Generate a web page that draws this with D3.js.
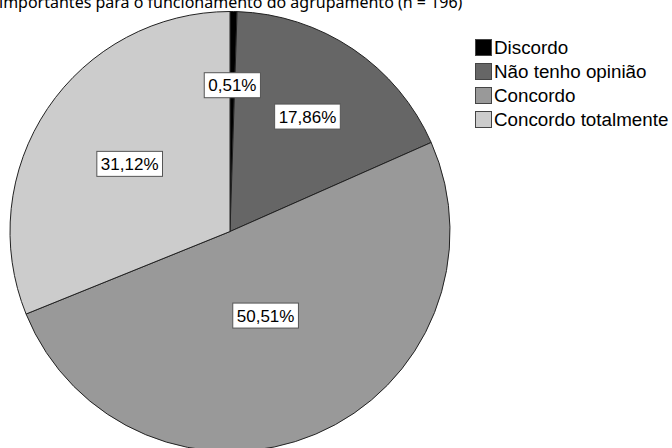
<!DOCTYPE html>
<html>
<head>
<meta charset="utf-8">
<script src="https://cdn.jsdelivr.net/npm/d3@7"></script>
<style>
  html, body { margin: 0; padding: 0; background: #fff; }
  svg { display: block; }
</style>
</head>
<body>
<svg id="chart" width="672" height="448"></svg>
<script>
// Respostas (n = 196)
const categories = ["Discordo", "Não tenho opinião", "Concordo", "Concordo totalmente"];
const percentages = [0.51, 17.86, 50.51, 31.12];
const percentLabels = ["0,51%", "17,86%", "50,51%", "31,12%"];
const titleText = "importantes para o funcionamento do agrupamento (n = 196)";

// Drawing style
const fills = ["#000000", "#666666", "#999999", "#cccccc"];
const labelRadius = [0.665, 0.63, 0.415, 0.55];

const svg = d3.select("#chart");
const W = 672, H = 448;
const cx = 230, cy = 231.5, R = 220;

svg.append("rect").attr("width", W).attr("height", H).attr("fill", "#fff");

svg.append("text")
  .attr("x", -1).attr("y", 8)
  .attr("font-family", "Noto Sans, Open Sans, sans-serif")
  .attr("font-size", 16)
  .attr("fill", "#000")
  .text(titleText);

const data = categories.map((c, i) => ({ cat: c, value: percentages[i], label: percentLabels[i], i }));

const pie = d3.pie().value(d => d.value).sort(null);
const arcs = pie(data);
const arc = d3.arc().innerRadius(0).outerRadius(R);

const g = svg.append("g").attr("transform", `translate(${cx},${cy})`);

g.selectAll("path.slice")
  .data(arcs)
  .join("path")
  .attr("class", "slice")
  .attr("d", arc)
  .attr("fill", d => fills[d.data.i])
  .attr("stroke", "#222")
  .attr("stroke-width", 1)
  .attr("stroke-linejoin", "round");

// Value labels in white boxes
const labelG = g.selectAll("g.lbl")
  .data(arcs)
  .join("g")
  .attr("class", "lbl")
  .attr("transform", d => {
    const a = (d.startAngle + d.endAngle) / 2;
    const r = R * labelRadius[d.data.i];
    return `translate(${r * Math.sin(a)},${-r * Math.cos(a)})`;
  });

labelG.append("text")
  .attr("text-anchor", "middle")
  .attr("dy", "0.36em")
  .attr("font-family", "Liberation Sans, Arial, sans-serif")
  .attr("font-size", 17)
  .attr("fill", "#000")
  .text(d => d.data.label);

labelG.each(function () {
  const grp = d3.select(this);
  const bb = grp.select("text").node().getBBox();
  grp.insert("rect", "text")
    .attr("x", bb.x - 4)
    .attr("y", -12.5)
    .attr("width", bb.width + 8)
    .attr("height", 25)
    .attr("fill", "#fff")
    .attr("stroke", "#555")
    .attr("stroke-width", 1);
});

// Legend
const legend = svg.append("g").attr("transform", "translate(475,39)");
const rows = legend.selectAll("g")
  .data(categories)
  .join("g")
  .attr("transform", (d, i) => `translate(0,${i * 24})`);

rows.append("rect")
  .attr("x", 0.5).attr("y", 0.5)
  .attr("width", 16).attr("height", 16)
  .attr("fill", (d, i) => fills[i])
  .attr("stroke", "#444")
  .attr("stroke-width", 1);

rows.append("text")
  .attr("x", 19).attr("y", 8.5)
  .attr("dy", "0.36em")
  .attr("font-family", "Liberation Sans, Arial, sans-serif")
  .attr("font-size", 18.8)
  .attr("fill", "#000")
  .text(d => d);
</script>
</body>
</html>
